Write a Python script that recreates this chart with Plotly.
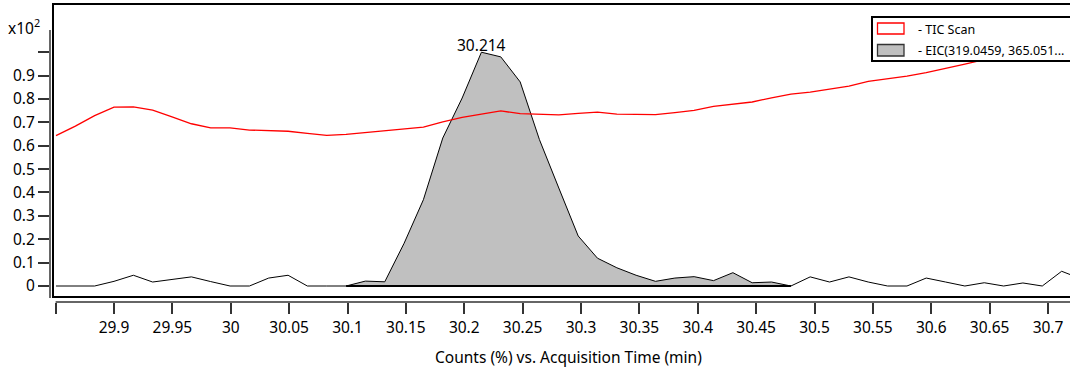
import plotly.graph_objects as go

# Acquisition times (min)
times = [29.8503, 29.8669, 29.8834, 29.9000, 29.9166, 29.9331, 29.9497, 29.9663, 29.9828, 29.9994,
         30.0160, 30.0325, 30.0491, 30.0656, 30.0822, 30.0988, 30.1153, 30.1319, 30.1485, 30.1650,
         30.1816, 30.1982, 30.2147, 30.2313, 30.2479, 30.2644, 30.2810, 30.2976, 30.3141, 30.3307,
         30.3472, 30.3638, 30.3804, 30.3969, 30.4135, 30.4301, 30.4466, 30.4632, 30.4798, 30.4963,
         30.5129, 30.5295, 30.5460, 30.5626, 30.5792, 30.5957, 30.6123, 30.6288, 30.6454, 30.6620,
         30.6785, 30.6951, 30.7117, 30.7282]

# EIC (x10^2 %)
eic = [0, 0, 0, 0.020, 0.046, 0.017, 0.028, 0.039, 0.019, 0,
       0, 0.034, 0.046, 0, 0, 0, 0.021, 0.018, 0.183, 0.369,
       0.633, 0.804, 1.000, 0.980, 0.873, 0.626, 0.419, 0.214, 0.119, 0.078,
       0.046, 0.020, 0.034, 0.040, 0.023, 0.057, 0.014, 0.017, 0, 0.039,
       0.017, 0.039, 0.017, 0, 0, 0.034, 0.017, 0, 0.014, 0,
       0.013, 0, 0.063, 0.031]

# TIC Scan (x10^2 %)
tic = [0.643, 0.684, 0.729, 0.765, 0.766, 0.752, 0.723, 0.694, 0.676, 0.676,
       0.667, 0.666, 0.662, 0.653, 0.644, 0.649, 0.656, 0.663, 0.672, 0.680,
       0.702, 0.721, 0.735, 0.749, 0.737, 0.735, 0.732, 0.738, 0.744, 0.735,
       0.734, 0.733, 0.742, 0.751, 0.768, 0.778, 0.787, 0.805, 0.821, 0.829,
       0.843, 0.855, 0.875, 0.886, 0.898, 0.913, 0.930, 0.949, 0.968, 0.985,
       1.000, 1.015, 1.030, 1.045]

# integrated peak window (indices into times)
peak_start, peak_end = 15, 38
peak_label = "30.214"

x_tickvals = [29.85, 29.9, 29.95, 30.0, 30.05, 30.1, 30.15, 30.2, 30.25, 30.3, 30.35,
              30.4, 30.45, 30.5, 30.55, 30.6, 30.65, 30.7]
x_ticktext = [" ", "29.9", "29.95", "30", "30.05", "30.1", "30.15", "30.2", "30.25", "30.3",
              "30.35", "30.4", "30.45", "30.5", "30.55", "30.6", "30.65", "30.7"]
y_tickvals = [0, 0.1, 0.2, 0.3, 0.4, 0.5, 0.6, 0.7, 0.8, 0.9, 1.0]
y_ticktext = ["0", "0.1", "0.2", "0.3", "0.4", "0.5", "0.6", "0.7", "0.8", "0.9", " "]

FONT = "Noto Sans"
W, H = 1070, 373
L, R, T, B = 50, 0, 3, 71
PW, PH = W - L - R, H - T - B


def px(xpix):
    return (xpix - L) / PW


def py(ypix):
    return (H - B - ypix) / PH


fig = go.Figure()

pt = times[peak_start:peak_end + 1]
pe = eic[peak_start:peak_end + 1]
fig.add_trace(go.Scatter(x=pt, y=pe, mode="lines", fill="tozeroy",
                         fillcolor="#c0c0c0", line=dict(width=0, color="#c0c0c0"),
                         hoverinfo="skip", showlegend=False))
fig.add_trace(go.Scatter(x=[pt[0], pt[-1]], y=[0, 0], mode="lines",
                         line=dict(color="black", width=2.2), showlegend=False))
fig.add_trace(go.Scatter(x=times, y=eic, mode="lines",
                         line=dict(color="black", width=1), showlegend=False))
fig.add_trace(go.Scatter(x=times, y=tic, mode="lines",
                         line=dict(color="#ff0000", width=1.3), showlegend=False))

shapes = [
    # plot frame
    dict(type="rect", xref="paper", yref="paper", x0=px(53), x1=px(1080),
         y0=py(297), y1=py(4), line=dict(color="black", width=2), layer="above"),
    # y axis line
    dict(type="line", xref="paper", yref="paper", x0=0, x1=0, y0=py(298), y1=py(30),
         line=dict(color="#333333", width=1.5)),
    # x axis line
    dict(type="line", xref="x", yref="paper", x0=29.85, x1=30.75, y0=0, y1=0,
         line=dict(color="#333333", width=1.5)),
    # legend box
    dict(type="rect", xref="paper", yref="paper", x0=px(872), x1=px(1080),
         y0=py(61), y1=py(17), line=dict(color="black", width=2), fillcolor="white", layer="above"),
    dict(type="rect", xref="paper", yref="paper", x0=px(877.5), x1=px(904),
         y0=py(34), y1=py(23), line=dict(color="#ff0000", width=1.3), fillcolor="white", layer="above"),
    dict(type="rect", xref="paper", yref="paper", x0=px(877.5), x1=px(904),
         y0=py(56), y1=py(44.5), line=dict(color="#333333", width=1.3), fillcolor="#c0c0c0", layer="above"),
]

annotations = [
    dict(x=times[eic.index(max(eic))], y=max(eic), xref="x", yref="y", text=peak_label,
         showarrow=False, yanchor="middle", yshift=7, font=dict(family=FONT, size=15.5, color="black")),
    dict(x=px(6), y=py(27), xref="paper", yref="paper", text="x10<sup>2</sup>",
         showarrow=False, xanchor="left", yanchor="middle", font=dict(family=FONT, size=15.5, color="black")),
    dict(x=px(568), y=py(357), xref="paper", yref="paper", text="Counts (%) vs. Acquisition Time (min)",
         showarrow=False, xanchor="center", yanchor="middle", font=dict(family=FONT, size=15.5, color="black")),
    dict(x=px(916), y=py(29.5), xref="paper", yref="paper", text="- TIC Scan",
         showarrow=False, xanchor="left", yanchor="middle", font=dict(family=FONT, size=12.5, color="black")),
    dict(x=px(916), y=py(50.5), xref="paper", yref="paper", text="- EIC(319.0459, 365.051...",
         showarrow=False, xanchor="left", yanchor="middle", font=dict(family=FONT, size=12.5, color="black")),
]

fig.update_layout(
    width=W, height=H,
    margin=dict(l=L, r=R, t=T, b=B, pad=0, autoexpand=False),
    plot_bgcolor="white", paper_bgcolor="white",
    showlegend=False,
    shapes=shapes, annotations=annotations,
    xaxis=dict(range=[29.84518, 30.71884], showgrid=False, zeroline=False, showline=False,
               automargin=False,
               tickmode="array", tickvals=x_tickvals, ticktext=x_ticktext,
               ticks="outside", ticklen=11, tickwidth=1.5, tickcolor="#333333",
               tickfont=dict(family=FONT, size=15.5, color="black")),
    yaxis=dict(range=[-0.0684, 1.2105], showgrid=False, zeroline=False, showline=False,
               automargin=False,
               tickmode="array", tickvals=y_tickvals, ticktext=y_ticktext,
               ticks="outside", ticklen=11, tickwidth=1.5, tickcolor="#333333",
               tickfont=dict(family=FONT, size=15.5, color="black")),
)

fig.write_html("out.html", config={"displayModeBar": False},
               post_script="document.body.style.margin='0px';document.body.style.overflow='hidden';")
